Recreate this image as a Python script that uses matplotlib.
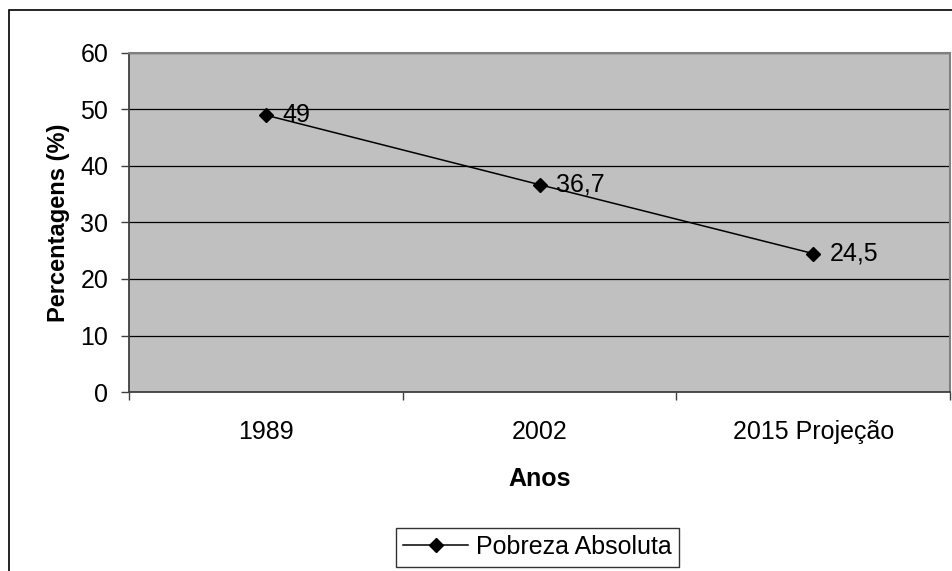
import numpy as np
import matplotlib.pyplot as plt
from matplotlib.patches import Rectangle

plt.rcParams['font.family'] = ['Liberation Sans', 'DejaVu Sans']

# data
anos = ["1989", "2002", "2015 Projeção"]
pobreza = [49, 36.7, 24.5]
rotulos = ["49", "36,7", "24,5"]

fig = plt.figure(figsize=(9.52, 5.71), dpi=100)
ax = fig.add_axes([129/952, 1 - 392/571, (950 - 129)/952, (392 - 53)/571])
ax.set_facecolor("#C0C0C0")

x = np.arange(len(anos))
ax.plot(x, pobreza, color="black", lw=1.1, marker="D", markersize=7,
        label="Pobreza Absoluta", zorder=3)
for xi, yi, t in zip(x, pobreza, rotulos):
    ax.annotate(t, (xi, yi), xytext=(12, 0), textcoords="offset points",
                va="center", ha="left", fontsize=18)

ax.set_xlim(-0.5, 2.5)
ax.set_ylim(0, 60)
ax.set_yticks(np.arange(0, 61, 10))
ax.yaxis.grid(True, color="black", lw=0.9)
ax.set_axisbelow(True)

ax.set_xticks(x)
ax.set_xticklabels(anos)
ax.set_xticks([-0.5, 0.5, 1.5, 2.5], minor=True)
ax.tick_params(axis="x", which="major", length=0, pad=20, labelsize=18)
ax.tick_params(axis="x", which="minor", length=6, width=1, color="#404040", direction="out")
ax.tick_params(axis="y", length=6, width=1, color="#404040", pad=9, labelsize=18)

for s in ["left", "bottom"]:
    ax.spines[s].set_color("#404040")
    ax.spines[s].set_linewidth(1.3)
for s in ["top", "right"]:
    ax.spines[s].set_color("#808080")
    ax.spines[s].set_linewidth(1.5)

ax.set_xlabel("Anos", fontsize=18, fontweight="bold", labelpad=17)
ax.set_ylabel("Percentagens (%)", fontsize=17, fontweight="bold", labelpad=7)

leg = ax.legend(loc="center", bbox_to_anchor=(537.5/952, 1 - 547/571),
                bbox_transform=fig.transFigure, fontsize=18, frameon=True,
                fancybox=False, edgecolor="black", handlelength=2.6,
                borderpad=0.3, handletextpad=0.3)
leg.get_frame().set_linewidth(1)

# outer chart border
fig.patches.append(Rectangle((9/952, -0.1), 1.1, 1 - 10/571 + 0.1,
                             transform=fig.transFigure, fill=False,
                             edgecolor="black", lw=1.2))

fig.savefig("out.png", dpi=100)
